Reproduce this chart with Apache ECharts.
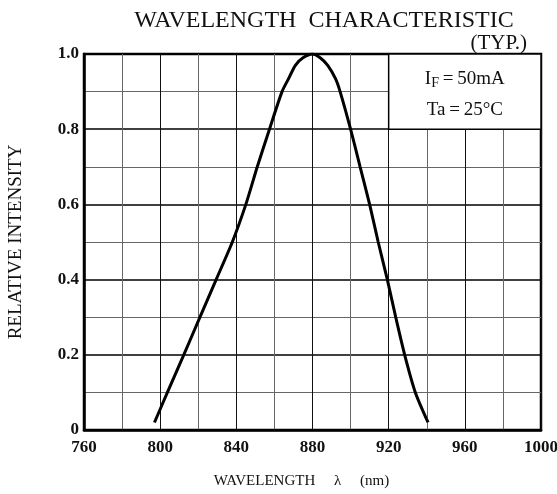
<!DOCTYPE html>
<html>
<head>
<meta charset="utf-8">
<script src="https://cdn.jsdelivr.net/npm/echarts@6/dist/echarts.min.js"></script>
<style>html,body{margin:0;padding:0;background:#fff;}#c{width:557px;height:494px;}</style>
</head>
<body>
<div id="c"></div>
<script>
// Data
var wavelengths = [797, 803.8, 812.4, 820.9, 829.4, 837.9, 845, 851, 857.4, 864, 867.5, 871, 875, 880, 884, 888, 892, 894.5, 900, 905, 910, 914.5, 919.3, 923.7, 928.4, 934, 940.7];
var intensity   = [0.02, 0.10, 0.20, 0.30, 0.40, 0.50, 0.60, 0.70, 0.80, 0.90, 0.935, 0.97, 0.99, 1.00, 0.99, 0.97, 0.935, 0.90, 0.80, 0.70, 0.60, 0.50, 0.40, 0.30, 0.20, 0.10, 0.02];
var xTicks = [760, 800, 840, 880, 920, 960, 1000];
var yTicks = [0, 0.2, 0.4, 0.6, 0.8, 1.0];
var noteBox = [[920, 0.8], [1000, 1.0]];
var titleText = 'WAVELENGTH  CHARACTERISTIC';
var typText = '(TYP.)';
var xName = 'WAVELENGTH     \u03bb     (nm)';
var yName = 'RELATIVE INTENSITY';

var FONT = '"Liberation Serif","DejaVu Serif",serif';
var pts = wavelengths.map(function (w, i) { return [w, intensity[i]]; });

var chart = echarts.init(document.getElementById('c'), null, {renderer: 'canvas'});
chart.setOption({
  animation: false,
  backgroundColor: '#fff',
  title: [
    {text: titleText, left: 319, top: 4, textAlign: 'center',
     textStyle: {fontFamily: FONT, fontSize: 24, fontWeight: 'normal', color: '#111'}},
    {text: typText, right: 25, top: 28,
     textStyle: {fontFamily: FONT, fontSize: 21, fontWeight: 'normal', color: '#111'}}
  ],
  grid: {left: 84, right: 16, top: 54, bottom: 64, show: true, borderColor: '#000', borderWidth: 2.5,
    backgroundColor: 'transparent', outerBoundsMode: 'none', containLabel: false},
  xAxis: {
    type: 'value', min: xTicks[0], max: xTicks[xTicks.length - 1], interval: 40,
    name: xName, nameLocation: 'middle', nameGap: 44,
    nameTextStyle: {fontFamily: FONT, fontSize: 15, color: '#111', padding: [0, 22, 0, 0]},
    axisLine: {show: true, lineStyle: {color: '#000', width: 2.5}},
    axisTick: {show: false},
    axisLabel: {fontFamily: FONT, fontSize: 17, fontWeight: 'bold', color: '#111', margin: 9,
      formatter: function (v) { return String(v); }},
    splitLine: {show: true, lineStyle: {color: '#111', width: 1}},
    minorTick: {show: false, splitNumber: 2},
    minorSplitLine: {show: true, lineStyle: {color: '#666', width: 1}}
  },
  yAxis: {
    type: 'value', min: yTicks[0], max: yTicks[yTicks.length - 1], interval: 0.2,
    name: yName, nameLocation: 'middle', nameGap: 58, nameRotate: 90,
    nameTextStyle: {fontFamily: FONT, fontSize: 19, color: '#111'},
    axisLine: {show: true, lineStyle: {color: '#000', width: 2.5}},
    axisTick: {show: false},
    axisLabel: {fontFamily: FONT, fontSize: 17, fontWeight: 'bold', color: '#111', margin: 5,
      formatter: function (v) { return v === 0 ? '0' : v.toFixed(1); }},
    splitLine: {show: true, lineStyle: {color: '#000', width: 1.6}},
    minorTick: {show: false, splitNumber: 2},
    minorSplitLine: {show: true, lineStyle: {color: '#666', width: 1}}
  },
  series: [{
    type: 'line', data: pts, smooth: 0.25, symbol: 'none', z: 5,
    lineStyle: {color: '#000', width: 3},
    markArea: {
      silent: true,
      itemStyle: {color: '#fff', borderColor: '#000', borderWidth: 1.5, opacity: 1},
      label: {
        show: true, position: 'inside', padding: [6, 0, 0, 0],
        fontFamily: FONT, fontSize: 19, color: '#111', lineHeight: 31,
        formatter: '{a|I}{s|F}{a|\u2009=\u200950mA}\n{a|Ta\u2009=\u200925\u00b0C}',
        rich: {
          a: {fontFamily: FONT, fontSize: 19, color: '#111', lineHeight: 31},
          s: {fontFamily: FONT, fontSize: 14, color: '#111', lineHeight: 31, padding: [8, 0, 0, 0]}
        }
      },
      data: [[{coord: noteBox[0]}, {coord: noteBox[1]}]]
    }
  }]
});
</script>
</body>
</html>
